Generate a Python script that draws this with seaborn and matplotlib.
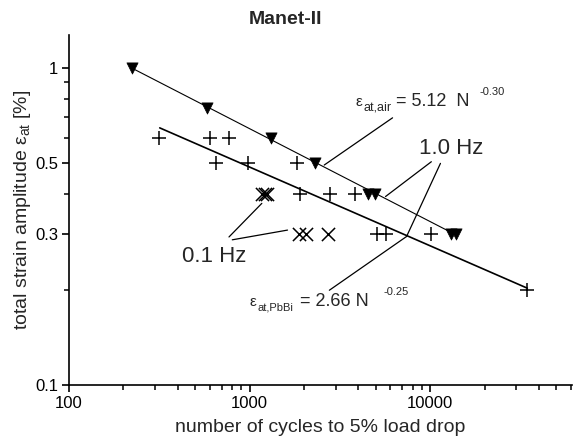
import matplotlib
matplotlib.use("Agg")
import matplotlib.pyplot as plt
import matplotlib.ticker as mticker
import seaborn as sns
import numpy as np

# ---------------- data ----------------
air_N = [222, 581, 1316, 2312, 4550, 4920, 13000, 13860]
air_e = [1.0, 0.75, 0.6, 0.5, 0.4, 0.4, 0.3, 0.3]

pbbi_N = [317, 603, 769, 654, 985, 1830, 1900, 2800, 3840, 5090, 5710, 10150, 34500]
pbbi_e = [0.6, 0.6, 0.6, 0.5, 0.5, 0.5, 0.4, 0.4, 0.4, 0.3, 0.3, 0.3, 0.2]

low_N = [1170, 1210, 1250, 1884, 2053, 2707]
low_e = [0.4, 0.4, 0.4, 0.3, 0.3, 0.3]

air_fit_N = [222, 13500]
air_fit_e = [1.0, 0.3]
pbbi_fit_N = [318, 34500]
pbbi_fit_e = [0.647, 0.202]

x_ticks = [100, 1000, 10000]
x_ticklabels = ["100", "1000", "10000"]
y_ticks = [0.1, 0.3, 0.5, 1]
y_ticklabels = ["0.1", "0.3", "0.5", "1"]
y_minor = [0.2, 0.4, 0.6, 0.7, 0.8, 0.9]

# ---------------- style ----------------
sns.set_theme(style="ticks")
plt.rcParams["font.family"] = ["Liberation Sans", "DejaVu Sans"]
plt.rcParams["mathtext.fontset"] = "custom"
plt.rcParams["mathtext.rm"] = "Liberation Sans"
plt.rcParams["mathtext.it"] = "Liberation Sans"

W, H = 577, 440
fig = plt.figure(figsize=(W / 100, H / 100), dpi=100)
L, R, T, B = 69, 572, 35, 385
ax = fig.add_axes([L / W, 1 - B / H, (R - L) / W, (B - T) / H])

ax.set_xscale("log")
ax.set_yscale("log")

sns.lineplot(x=air_fit_N, y=air_fit_e, color="black", linewidth=0.8, ax=ax)
sns.lineplot(x=pbbi_fit_N, y=pbbi_fit_e, color="black", linewidth=1.2, ax=ax)

sns.scatterplot(x=air_N, y=air_e, marker="v", color="black", s=65,
                edgecolor="black", linewidth=0.5, ax=ax, zorder=3)
sns.scatterplot(x=pbbi_N, y=pbbi_e, marker="+", color="black", s=110,
                linewidth=1.1, ax=ax, zorder=3)
sns.scatterplot(x=low_N, y=low_e, marker="x", color="black", s=90,
                linewidth=1.1, ax=ax, zorder=3)

ax.set_xlim(100, 61000)
ax.set_ylim(0.1, 1.27)

ax.xaxis.set_major_locator(mticker.FixedLocator(x_ticks))
ax.xaxis.set_major_formatter(mticker.FixedFormatter(x_ticklabels))
ax.xaxis.set_minor_locator(mticker.LogLocator(base=10, subs=np.arange(2, 10)))
ax.xaxis.set_minor_formatter(mticker.NullFormatter())
ax.yaxis.set_major_locator(mticker.FixedLocator(y_ticks))
ax.yaxis.set_major_formatter(mticker.FixedFormatter(y_ticklabels))
ax.yaxis.set_minor_locator(mticker.FixedLocator(y_minor))
ax.yaxis.set_minor_formatter(mticker.NullFormatter())

for s in ["top", "right"]:
    ax.spines[s].set_visible(False)
for s in ["left", "bottom"]:
    ax.spines[s].set_linewidth(1.2)
    ax.spines[s].set_color("black")
ax.tick_params(which="major", direction="out", length=5, width=1.2,
               labelsize=12, colors="black", pad=3)
ax.tick_params(which="minor", direction="out", length=3.5, width=1.1,
               colors="black")

ax.set_xlabel("number of cycles to 5% load drop", fontsize=14, labelpad=6)
ax.set_ylabel(r"total strain amplitude $\mathregular{\varepsilon_{at}}$ [%]",
              fontsize=14, labelpad=1)
ax.set_title("Manet-II", fontsize=14, fontweight="bold", pad=8)
ax.title.set_position(((285 - L) / (R - L), 1))


def fx(px):
    return px / W


def fy(py):
    return 1 - py / H


# leader lines (data coordinates)
leaders = [
    ((6190, 0.696), (2590, 0.494)),
    ((10150, 0.506), (5660, 0.393)),
    ((11400, 0.500), (7400, 0.294)),
    ((2765, 0.199), (7400, 0.294)),
    ((769, 0.293), (1169, 0.374)),
    ((802, 0.287), (1622, 0.308)),
]
for (x0, y0), (x1, y1) in leaders:
    ax.plot([x0, x1], [y0, y1], color="black", linewidth=0.9)

# labels
fig.text(fx(214), fy(256), "0.1 Hz", fontsize=16, ha="center", va="center")
fig.text(fx(451), fy(149), "1.0 Hz", fontsize=16, ha="center", va="center")

# air equation
fig.text(fx(355), fy(106), "\u03b5", fontsize=11, ha="left", va="baseline")
fig.text(fx(363), fy(110), "at,air", fontsize=9, ha="left", va="baseline")
fig.text(fx(396), fy(106), "= 5.12  N", fontsize=13, ha="left", va="baseline")
fig.text(fx(480), fy(95), "-0.30", fontsize=8, ha="left", va="baseline")

# PbBi equation
fig.text(fx(250), fy(306), "\u03b5", fontsize=11, ha="left", va="baseline")
fig.text(fx(258), fy(310), "at,PbBi", fontsize=8, ha="left", va="baseline")
fig.text(fx(300), fy(306), "= 2.66 N", fontsize=13, ha="left", va="baseline")
fig.text(fx(384), fy(295), "-0.25", fontsize=8, ha="left", va="baseline")

fig.savefig("out.png", dpi=100)
